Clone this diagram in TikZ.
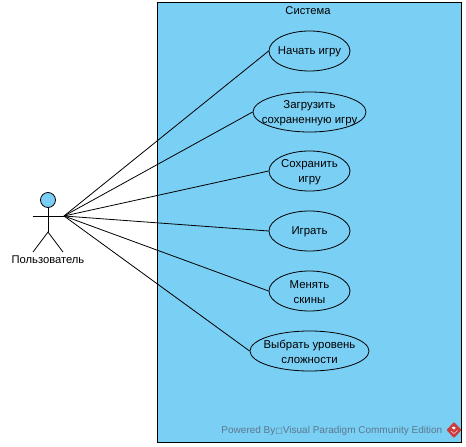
\documentclass[tikz,border=0pt]{standalone}
\usepackage{fontspec}
\setmainfont{Liberation Sans}
\newfontfamily\symfont{DejaVu Sans}
\definecolor{sysblue}{RGB}{122,207,245}
\definecolor{wmgray}{RGB}{92,120,140}
\definecolor{logored}{RGB}{205,60,60}
\newcommand\dn[1]{\raisebox{-1pt}[\height][\depth]{#1}}
\tikzset{
  x=1pt,y=-1pt,
  line/.style={draw=black,line width=0.8pt},
  usecase/.style={ellipse,draw=black,fill=sysblue,line width=0.8pt,inner xsep=-60pt,inner ysep=-20pt,align=center,font=\fontsize{11.4}{15}\selectfont},
  lab/.style={inner sep=0pt,font=\fontsize{11.2}{13}\selectfont}
}
\usetikzlibrary{shapes.geometric}
\begin{document}
\begin{tikzpicture}
\useasboundingbox (0,0) rectangle (466,447);
\node[draw=black,fill=sysblue,line width=0.8pt,minimum width=304pt,minimum height=440pt,inner sep=0pt] (sys) at (309,222) {};
\node[lab] (systitle) at (308,10.5) {Система};
\node[usecase,minimum width=81pt,minimum height=40pt] (u1) at (309.5,51) {\dn{Начать игру}};
\node[usecase,minimum width=113pt,minimum height=40pt] (u2) at (309.5,112) {\dn{Загрузить}\\\dn{сохраненную игру}};
\node[usecase,minimum width=81pt,minimum height=40pt] (u3) at (309.5,171) {\dn{Сохранить}\\\dn{игру}};
\node[usecase,minimum width=81pt,minimum height=40pt] (u4) at (309.5,231) {\dn{Играть}};
\node[usecase,minimum width=81pt,minimum height=40pt] (u5) at (309.5,291) {\dn{Менять}\\\dn{скины}};
\node[usecase,minimum width=119pt,minimum height=40pt] (u6) at (309.5,351) {\dn{Выбрать уровень}\\\dn{сложности}};
% actor
\node[circle,draw=black,fill=sysblue,line width=0.8pt,minimum size=15pt,inner sep=0pt] (head) at (48,200) {};
\coordinate (hip) at (48,232);
\coordinate (handl) at (33,216);
\coordinate (handr) at (64,216);
\coordinate (footl) at (33,252);
\coordinate (footr) at (63,252);
\draw[line] (head.south) -- (hip);
\draw[line] (handl) -- (handr);
\draw[line] (footl) -- (hip) -- (footr);
\node[lab] (actor) at (48,260) {Пользователь};
\foreach \u in {u1,u2,u3,u4,u5,u6}{\draw[line] (handr) -- (\u.west);}
% watermark
\node[anchor=east,inner sep=0pt,text=wmgray,font=\fontsize{10}{12}\selectfont] (wm) at (442.5,431) {Powered By{\symfont\fontsize{8}{10}\selectfont □}Visual Paradigm Community Edition};
\fill[logored,rounded corners=1pt] (454,422) -- (461.5,430) -- (454,438) -- (446.5,430) -- cycle;
\fill[white] (451.5,427.5) -- (454,426.5) -- (455.5,428) -- (454,429.5) -- cycle;
\draw[white,line width=0.4pt] (451,431) -- (454,433.5) -- (457.5,430.5);
\end{tikzpicture}
\end{document}
